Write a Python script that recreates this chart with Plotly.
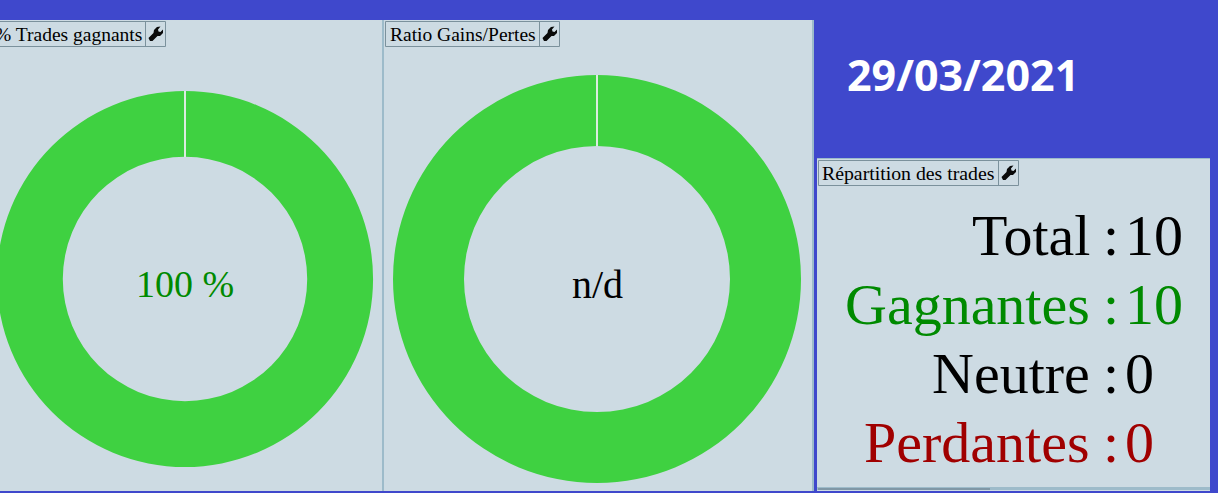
import plotly.graph_objects as go

# Donnees
titres = ['% Trades gagnants', 'Ratio Gains/Pertes', 'Répartition des trades']
part_gagnants = [100]
ratio_gains = [1]
centre_textes = ['100 %', 'n/d']
date_jour = '29/03/2021'
lignes = ['Total', 'Gagnantes', 'Neutre', 'Perdantes']
nb_trades = [10, 10, 0, 0]
couleurs_lignes = ['#000000', '#008a00', '#000000', '#a00000']

BLEU = '#3f48cc'
FOND = '#cddbe3'
BORD = '#9dbbca'
VERT = '#3fd141'
SERIF = 'Liberation Serif'

# le premier donut depasse a gauche de la fenetre, donc la figure deborde de 10px
DEBORD = 10
W = 1218 + DEBORD
H = 493


def px(x):
    return (x + DEBORD) / W


def py(y):
    return 1 - y / H


def rect(x0, y0, x1, y1, fill, line=None, width=1, layer='below'):
    return dict(type='rect', xref='paper', yref='paper', x0=px(x0), x1=px(x1), y0=py(y0), y1=py(y1),
                fillcolor=fill, line=dict(color=line or fill, width=width if line else 0), layer=layer)


def trait(x0, y0, x1, y1, color, width=1, layer='below'):
    return dict(type='line', xref='paper', yref='paper', x0=px(x0), x1=px(x1), y0=py(y0), y1=py(y1),
                line=dict(color=color, width=width), layer=layer)


def cle(cx, cy):
    pts = [(-7, 4), (-2, -1), (-1.5, -4), (1.5, -7), (5, -7.5), (2.5, -4.5), (3, -2.5), (5, -2),
           (7.5, -4.5), (7.5, -1), (4.5, 2), (2, 2), (-3, 7), (-5.5, 7)]
    d = 'M ' + ' L '.join(f'{px(cx + a):.5f},{py(cy + b):.5f}' for a, b in pts) + ' Z'
    return dict(type='path', xref='paper', yref='paper', path=d, fillcolor='#0a0a0a', line=dict(width=0), layer='above')


def texte(x, y, s, size, color='#000000', anchor='center', family=SERIF, bold=False):
    return dict(xref='paper', yref='paper', x=px(x), y=py(y), text=f'<b>{s}</b>' if bold else s, showarrow=False,
                xanchor=anchor, yanchor='middle', font=dict(family=family, size=size, color=color))


def donut(values, cx, cy, r, hole):
    return go.Pie(values=values, hole=hole, sort=False, textinfo='none', hoverinfo='skip', showlegend=False,
                  marker=dict(colors=[VERT], line=dict(width=0)),
                  domain=dict(x=[px(cx - r), px(cx + r)], y=[py(cy + r), py(cy - r)]))


fig = go.Figure()
fig.add_trace(donut(part_gagnants, 185, 279, 188, 0.65))
fig.add_trace(donut(ratio_gains, 597, 279, 204, 0.652))

shapes = [
    rect(-DEBORD, 20, 383, 491, FOND),
    rect(383, 20, 812, 491, FOND),
    rect(812, 20, 814, 491, BORD),
    trait(383, 20, 383, 491, BORD, 2),
    rect(817, 158, 1210, 491, FOND),
    trait(817, 158.5, 1210, 158.5, BORD, 1),
    rect(817, 487, 1210, 490, BORD),
    rect(818, 488, 990, 490, '#7f97a6'),
    # onglets
    rect(-5, 21.5, 165.5, 46.5, FOND, '#7b919c', 1, 'above'),
    trait(145.5, 21.5, 145.5, 46.5, '#7b919c', 1, 'above'),
    rect(385.5, 21.5, 559.5, 46.5, FOND, '#7b919c', 1, 'above'),
    trait(539.5, 21.5, 539.5, 46.5, '#7b919c', 1, 'above'),
    rect(818.5, 160.5, 1018.5, 185.5, FOND, '#7b919c', 1, 'above'),
    trait(998.5, 160.5, 998.5, 185.5, '#7b919c', 1, 'above'),
    cle(155.5, 34), cle(549.5, 34), cle(1008.5, 173),
    # separation en haut des donuts
    trait(185, 91, 185, 157, '#dcebe0', 2, 'above'),
    trait(597, 75, 597, 146, '#dcebe0', 2, 'above'),
]

annotations = [
    texte(144, 34, titres[0], 19.5, anchor='right'),
    texte(388, 34, titres[1], 19.5, anchor='left'),
    texte(820, 173, titres[2], 19.8, anchor='left'),
    texte(185, 284, centre_textes[0], 38, color='#008a00'),
    texte(597, 284, centre_textes[1], 40),
    texte(845, 75, date_jour, 43, color='#ffffff', anchor='left', family='Open Sans', bold=True),
]

# lignes de la repartition
for i, nom in enumerate(lignes):
    y = 235 + i * 69
    annotations.append(texte(1092, y, nom, 58, couleurs_lignes[i], 'right'))
    annotations.append(texte(1101, y, ':', 58, couleurs_lignes[i], 'left'))
    annotations.append(texte(1123, y, str(nb_trades[i]), 58, couleurs_lignes[i], 'left'))

fig.update_layout(width=W, height=H, margin=dict(l=0, r=0, t=0, b=0), paper_bgcolor=BLEU, plot_bgcolor=BLEU,
                  shapes=shapes, annotations=annotations)

fig.write_html('out.html', config={'displayModeBar': False},
               post_script="document.body.style.margin='0';document.body.style.overflow='hidden';"
                           "document.getElementById('{plot_id}').style.marginLeft='-%dpx';" % DEBORD)
